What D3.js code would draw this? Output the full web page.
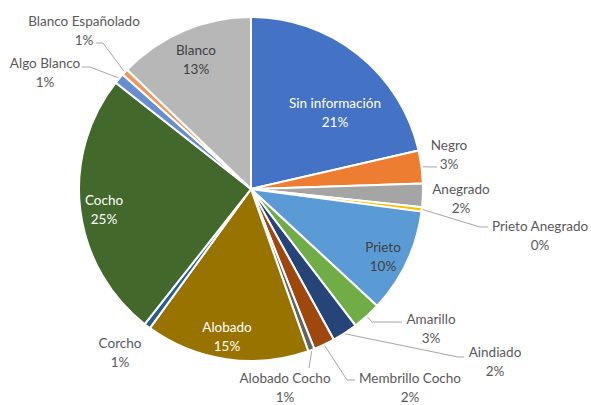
<!DOCTYPE html>
<html>
<head>
<meta charset="utf-8">
<script src="https://cdn.jsdelivr.net/npm/d3@7"></script>
<style>
  body { margin: 0; background: #fff; }
  text { font-family: Lato, "Noto Sans", sans-serif; font-size: 13.5px; }
</style>
</head>
<body>
<div id="chart"></div>
<script>
// data (share of total, %)
var categories = ["Sin información", "Negro", "Anegrado", "Prieto Anegrado", "Prieto", "Amarillo",
  "Aindiado", "Membrillo Cocho", "Alobado Cocho", "Alobado", "Corcho", "Cocho",
  "Algo Blanco", "Blanco Españolado", "Blanco"];
var values = [21.4, 3.1, 2.2, 0.4, 9.8, 2.7, 2.4, 2.0, 0.6, 15.4, 0.6, 25.0, 1.0, 0.6, 12.8];
var colors = ["#4472C4", "#ED7D31", "#A5A5A5", "#FFC000", "#5B9BD5", "#70AD47",
  "#264478", "#9E480E", "#636363", "#997300", "#255E91", "#43682B",
  "#698ED0", "#F1975A", "#B7B7B7"];

var width = 591, height = 405,
    cx = 251, cy = 189, radius = 172;

// label layout: center of the two-line label, plus leader line points
var labelLayout = {
  "Sin información": {x: 335, y: 103, fill: "#fff"},
  "Negro": {x: 449, y: 145, line: [[437, 167]]},
  "Anegrado": {x: 461, y: 189},
  "Prieto Anegrado": {x: 540, y: 226, line: [[480, 227], [488, 227]]},
  "Prieto": {x: 383, y: 247, fill: "#404040"},
  "Amarillo": {x: 431, y: 319, line: [[372, 322], [402, 322]]},
  "Aindiado": {x: 495, y: 352, line: [[458, 357], [464, 357]]},
  "Membrillo Cocho": {x: 410, y: 378, line: [[347, 380], [355, 380]]},
  "Alobado Cocho": {x: 285, y: 378, line: [[309, 368]]},
  "Alobado": {x: 227, y: 327, fill: "#fff"},
  "Corcho": {x: 120, y: 343},
  "Cocho": {x: 104, y: 200, fill: "#fff"},
  "Algo Blanco": {x: 45, y: 63, line: [[90, 67], [82, 67]]},
  "Blanco Españolado": {x: 84, y: 21, line: [[103, 43], [96, 43]]},
  "Blanco": {x: 196, y: 50, fill: "#404040"}
};

var total = d3.sum(values);
var fmt = d3.format(".0%");
var color = d3.scaleOrdinal().domain(categories).range(colors);

var svg = d3.select("#chart").append("svg")
    .attr("width", width)
    .attr("height", height);

var pie = d3.pie().sort(null).value(function(d) { return d.value; });
var arc = d3.arc().innerRadius(0).outerRadius(radius);

var data = categories.map(function(c, i) { return {name: c, value: values[i]}; });
var arcs = pie(data);

var g = svg.append("g").attr("transform", "translate(" + cx + "," + cy + ")");

g.selectAll("path.slice")
  .data(arcs)
  .enter().append("path")
    .attr("class", "slice")
    .attr("d", arc)
    .attr("fill", function(d) { return color(d.data.name); })
    .attr("stroke", "#fff")
    .attr("stroke-width", 2)
    .attr("stroke-linejoin", "round");

// leader lines
arcs.forEach(function(d) {
  var lay = labelLayout[d.data.name];
  if (!lay.line) return;
  var a = (d.startAngle + d.endAngle) / 2;
  var r = radius + 1;
  var pts = [[cx + r * Math.sin(a), cy - r * Math.cos(a)]].concat(lay.line);
  svg.append("path")
    .attr("d", d3.line()(pts))
    .attr("fill", "none")
    .attr("stroke", "#A6A6A6")
    .attr("stroke-width", 1);
});

var labels = svg.selectAll("text.lbl")
  .data(arcs)
  .enter().append("text")
    .attr("class", "lbl")
    .attr("text-anchor", "middle")
    .attr("fill", function(d) { return labelLayout[d.data.name].fill || "#595959"; })
    .attr("transform", function(d) {
      var lay = labelLayout[d.data.name];
      return "translate(" + lay.x + "," + lay.y + ")";
    });

labels.append("tspan")
  .attr("x", 0).attr("y", 0).attr("dy", "0.35em")
  .text(function(d) { return d.data.name; });
labels.append("tspan")
  .attr("x", 0).attr("y", 19).attr("dy", "0.35em")
  .text(function(d) { return fmt(d.data.value / total); });
</script>
</body>
</html>
